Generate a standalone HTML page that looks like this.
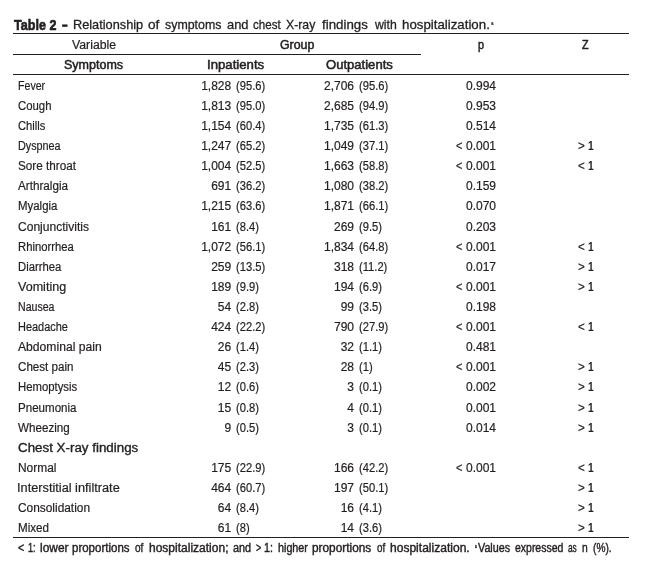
<!DOCTYPE html>
<html><head><meta charset="utf-8"><style>
html,body{margin:0;padding:0;background:#fff;}
body{width:645px;height:569px;position:relative;overflow:hidden;font-family:"Liberation Sans",Arial,sans-serif;color:#231f20;}
.t{position:absolute;white-space:pre;transform-origin:0 0;-webkit-text-stroke:0.2px #231f20;}
.b{-webkit-text-stroke:0.5px #231f20;}
.sb{-webkit-text-stroke:0.35px #231f20;}
.tb{font-weight:bold;-webkit-text-stroke:0.6px #231f20;}
.tt{-webkit-text-stroke:0.3px #231f20;}
.fn{-webkit-text-stroke:0.4px #231f20;}
.fn sup{font-size:6px;vertical-align:4px;line-height:0;}
.l{position:absolute;background:#231f20;}
</style></head><body>
<div class="l" style="left:13px;width:616px;top:33px;height:1px"></div>
<div class="l" style="left:13px;width:408px;top:54px;height:1px"></div>
<div class="l" style="left:13px;width:616px;top:74px;height:1px"></div>
<div class="l" style="left:13px;width:616px;top:537px;height:1px"></div>
<div id="e0" class="t tb" style="left:14.30px;top:18.00px;font-size:14px;line-height:14px;transform:scaleX(0.8979);">Table 2</div>
<div id="e1" class="t tb" style="left:61.90px;top:17.00px;font-size:15px;line-height:15px;transform:scaleX(0.6667);">–</div>
<div id="e2" class="t tt" style="left:73.30px;top:18.00px;font-size:13px;line-height:13px;transform:scaleX(0.9803);">Relationship</div>
<div id="e3" class="t tt" style="left:147.80px;top:18.00px;font-size:13px;line-height:13px;transform:scaleX(1.0455);">of</div>
<div id="e4" class="t tt" style="left:165.20px;top:18.00px;font-size:13px;line-height:13px;transform:scaleX(0.9525);">symptoms</div>
<div id="e5" class="t tt" style="left:226.60px;top:18.00px;font-size:13px;line-height:13px;transform:scaleX(0.9905);">and</div>
<div id="e6" class="t tt" style="left:252.80px;top:18.00px;font-size:13px;line-height:13px;transform:scaleX(0.8906);">chest</div>
<div id="e7" class="t tt" style="left:286.30px;top:18.00px;font-size:13px;line-height:13px;transform:scaleX(0.9419);">X-ray</div>
<div id="e8" class="t tt" style="left:321.60px;top:18.00px;font-size:13px;line-height:13px;transform:scaleX(1.0222);">findings</div>
<div id="e9" class="t tt" style="left:375.20px;top:18.00px;font-size:13px;line-height:13px;transform:scaleX(0.9435);">with</div>
<div id="e10" class="t tt" style="left:402.30px;top:18.00px;font-size:13px;line-height:13px;transform:scaleX(1.0212);">hospitalization.</div>
<div id="e11" class="t sup" style="left:491.30px;top:21.00px;font-size:5.5px;line-height:5.5px;transform:scaleX(0.8333);">a</div>
<div id="e12" class="t " style="left:72.00px;top:39.00px;font-size:12.0px;line-height:12.0px;transform:scaleX(1.0233);">Variable</div>
<div id="e13" class="t b" style="left:279.60px;top:39.00px;font-size:12.0px;line-height:12.0px;transform:scaleX(1.0294);">Group</div>
<div id="e14" class="t b" style="left:477.90px;top:39.00px;font-size:12.0px;line-height:12.0px;transform:scaleX(0.9000);">p</div>
<div id="e15" class="t b" style="left:581.90px;top:39.00px;font-size:12.0px;line-height:12.0px;transform:scaleX(0.9000);">Z</div>
<div id="e16" class="t b" style="left:64.10px;top:59.00px;font-size:12.0px;line-height:12.0px;transform:scaleX(1.0421);">Symptoms</div>
<div id="e17" class="t b" style="left:207.00px;top:59.00px;font-size:12.0px;line-height:12.0px;transform:scaleX(1.0981);">Inpatients</div>
<div id="e18" class="t b" style="left:325.50px;top:59.00px;font-size:12.0px;line-height:12.0px;transform:scaleX(1.0885);">Outpatients</div>
<div id="e19" class="t " style="left:17.80px;top:80.00px;font-size:12.0px;line-height:12.0px;transform:scaleX(0.8839);">Fever</div>
<div id="e20" class="t " style="right:413.80px;top:80.00px;font-size:12.0px;line-height:12.0px;">1,828</div>
<div id="e21" class="t " style="left:236.20px;top:80.00px;font-size:12.0px;line-height:12.0px;transform:scaleX(0.9300);">(95.6)</div>
<div id="e22" class="t " style="right:291.00px;top:80.00px;font-size:12.0px;line-height:12.0px;">2,706</div>
<div id="e23" class="t " style="left:359.00px;top:80.00px;font-size:12.0px;line-height:12.0px;transform:scaleX(0.9300);">(95.6)</div>
<div id="e24" class="t " style="left:466.00px;top:80.00px;font-size:12.0px;line-height:12.0px;">0.994</div>
<div id="e25" class="t " style="left:17.80px;top:100.00px;font-size:12.0px;line-height:12.0px;transform:scaleX(0.9457);">Cough</div>
<div id="e26" class="t " style="right:413.80px;top:100.00px;font-size:12.0px;line-height:12.0px;">1,813</div>
<div id="e27" class="t " style="left:236.20px;top:100.00px;font-size:12.0px;line-height:12.0px;transform:scaleX(0.9300);">(95.0)</div>
<div id="e28" class="t " style="right:291.00px;top:100.00px;font-size:12.0px;line-height:12.0px;">2,685</div>
<div id="e29" class="t " style="left:359.00px;top:100.00px;font-size:12.0px;line-height:12.0px;transform:scaleX(0.9300);">(94.9)</div>
<div id="e30" class="t " style="left:466.00px;top:100.00px;font-size:12.0px;line-height:12.0px;">0.953</div>
<div id="e31" class="t " style="left:17.80px;top:120.00px;font-size:12.0px;line-height:12.0px;transform:scaleX(0.9345);">Chills</div>
<div id="e32" class="t " style="right:413.80px;top:120.00px;font-size:12.0px;line-height:12.0px;">1,154</div>
<div id="e33" class="t " style="left:236.20px;top:120.00px;font-size:12.0px;line-height:12.0px;transform:scaleX(0.9300);">(60.4)</div>
<div id="e34" class="t " style="right:291.00px;top:120.00px;font-size:12.0px;line-height:12.0px;">1,735</div>
<div id="e35" class="t " style="left:359.00px;top:120.00px;font-size:12.0px;line-height:12.0px;transform:scaleX(0.9300);">(61.3)</div>
<div id="e36" class="t " style="left:466.00px;top:120.00px;font-size:12.0px;line-height:12.0px;">0.514</div>
<div id="e37" class="t " style="left:17.80px;top:140.00px;font-size:12.0px;line-height:12.0px;transform:scaleX(0.9000);">Dyspnea</div>
<div id="e38" class="t " style="right:413.80px;top:140.00px;font-size:12.0px;line-height:12.0px;">1,247</div>
<div id="e39" class="t " style="left:236.20px;top:140.00px;font-size:12.0px;line-height:12.0px;transform:scaleX(0.9300);">(65.2)</div>
<div id="e40" class="t " style="right:291.00px;top:140.00px;font-size:12.0px;line-height:12.0px;">1,049</div>
<div id="e41" class="t " style="left:359.00px;top:140.00px;font-size:12.0px;line-height:12.0px;transform:scaleX(0.9300);">(37.1)</div>
<div id="e42" class="t " style="left:455.60px;top:140.00px;font-size:12.0px;line-height:12.0px;transform:scaleX(0.9143);">&lt;</div>
<div id="e43" class="t " style="left:466.00px;top:140.00px;font-size:12.0px;line-height:12.0px;">0.001</div>
<div id="e44" class="t " style="left:578.20px;top:140.00px;font-size:12.0px;line-height:12.0px;transform:scaleX(0.9714);">&gt;</div>
<div id="e45" class="t " style="left:587.60px;top:140.00px;font-size:12.0px;line-height:12.0px;transform:scaleX(0.8500);font-weight:bold;-webkit-text-stroke:0;">1</div>
<div id="e46" class="t " style="left:17.80px;top:160.00px;font-size:12.0px;line-height:12.0px;transform:scaleX(0.9767);">Sore throat</div>
<div id="e47" class="t " style="right:413.80px;top:160.00px;font-size:12.0px;line-height:12.0px;">1,004</div>
<div id="e48" class="t " style="left:236.20px;top:160.00px;font-size:12.0px;line-height:12.0px;transform:scaleX(0.9300);">(52.5)</div>
<div id="e49" class="t " style="right:291.00px;top:160.00px;font-size:12.0px;line-height:12.0px;">1,663</div>
<div id="e50" class="t " style="left:359.00px;top:160.00px;font-size:12.0px;line-height:12.0px;transform:scaleX(0.9300);">(58.8)</div>
<div id="e51" class="t " style="left:455.60px;top:160.00px;font-size:12.0px;line-height:12.0px;transform:scaleX(0.9143);">&lt;</div>
<div id="e52" class="t " style="left:466.00px;top:160.00px;font-size:12.0px;line-height:12.0px;">0.001</div>
<div id="e53" class="t " style="left:578.20px;top:160.00px;font-size:12.0px;line-height:12.0px;transform:scaleX(0.9714);">&lt;</div>
<div id="e54" class="t " style="left:587.60px;top:160.00px;font-size:12.0px;line-height:12.0px;transform:scaleX(0.8500);font-weight:bold;-webkit-text-stroke:0;">1</div>
<div id="e55" class="t " style="left:17.80px;top:180.00px;font-size:12.0px;line-height:12.0px;transform:scaleX(0.9750);">Arthralgia</div>
<div id="e56" class="t " style="right:413.80px;top:180.00px;font-size:12.0px;line-height:12.0px;">691</div>
<div id="e57" class="t " style="left:236.20px;top:180.00px;font-size:12.0px;line-height:12.0px;transform:scaleX(0.9300);">(36.2)</div>
<div id="e58" class="t " style="right:291.00px;top:180.00px;font-size:12.0px;line-height:12.0px;">1,080</div>
<div id="e59" class="t " style="left:359.00px;top:180.00px;font-size:12.0px;line-height:12.0px;transform:scaleX(0.9300);">(38.2)</div>
<div id="e60" class="t " style="left:466.00px;top:180.00px;font-size:12.0px;line-height:12.0px;">0.159</div>
<div id="e61" class="t " style="left:17.80px;top:200.00px;font-size:12.0px;line-height:12.0px;transform:scaleX(0.9524);">Myalgia</div>
<div id="e62" class="t " style="right:413.80px;top:200.00px;font-size:12.0px;line-height:12.0px;">1,215</div>
<div id="e63" class="t " style="left:236.20px;top:200.00px;font-size:12.0px;line-height:12.0px;transform:scaleX(0.9300);">(63.6)</div>
<div id="e64" class="t " style="right:291.00px;top:200.00px;font-size:12.0px;line-height:12.0px;">1,871</div>
<div id="e65" class="t " style="left:359.00px;top:200.00px;font-size:12.0px;line-height:12.0px;transform:scaleX(0.9300);">(66.1)</div>
<div id="e66" class="t " style="left:466.00px;top:200.00px;font-size:12.0px;line-height:12.0px;">0.070</div>
<div id="e67" class="t " style="left:17.80px;top:221.00px;font-size:12.0px;line-height:12.0px;transform:scaleX(1.0042);">Conjunctivitis</div>
<div id="e68" class="t " style="right:413.80px;top:221.00px;font-size:12.0px;line-height:12.0px;">161</div>
<div id="e69" class="t " style="left:236.20px;top:221.00px;font-size:12.0px;line-height:12.0px;transform:scaleX(0.9300);">(8.4)</div>
<div id="e70" class="t " style="right:291.00px;top:221.00px;font-size:12.0px;line-height:12.0px;">269</div>
<div id="e71" class="t " style="left:359.00px;top:221.00px;font-size:12.0px;line-height:12.0px;transform:scaleX(0.9300);">(9.5)</div>
<div id="e72" class="t " style="left:466.00px;top:221.00px;font-size:12.0px;line-height:12.0px;">0.203</div>
<div id="e73" class="t " style="left:17.80px;top:241.00px;font-size:12.0px;line-height:12.0px;transform:scaleX(0.9383);">Rhinorrhea</div>
<div id="e74" class="t " style="right:413.80px;top:241.00px;font-size:12.0px;line-height:12.0px;">1,072</div>
<div id="e75" class="t " style="left:236.20px;top:241.00px;font-size:12.0px;line-height:12.0px;transform:scaleX(0.9300);">(56.1)</div>
<div id="e76" class="t " style="right:291.00px;top:241.00px;font-size:12.0px;line-height:12.0px;">1,834</div>
<div id="e77" class="t " style="left:359.00px;top:241.00px;font-size:12.0px;line-height:12.0px;transform:scaleX(0.9300);">(64.8)</div>
<div id="e78" class="t " style="left:455.60px;top:241.00px;font-size:12.0px;line-height:12.0px;transform:scaleX(0.9143);">&lt;</div>
<div id="e79" class="t " style="left:466.00px;top:241.00px;font-size:12.0px;line-height:12.0px;">0.001</div>
<div id="e80" class="t " style="left:578.20px;top:241.00px;font-size:12.0px;line-height:12.0px;transform:scaleX(0.9714);">&lt;</div>
<div id="e81" class="t " style="left:587.60px;top:241.00px;font-size:12.0px;line-height:12.0px;transform:scaleX(0.8500);font-weight:bold;-webkit-text-stroke:0;">1</div>
<div id="e82" class="t " style="left:17.80px;top:261.00px;font-size:12.0px;line-height:12.0px;transform:scaleX(0.9391);">Diarrhea</div>
<div id="e83" class="t " style="right:413.80px;top:261.00px;font-size:12.0px;line-height:12.0px;">259</div>
<div id="e84" class="t " style="left:236.20px;top:261.00px;font-size:12.0px;line-height:12.0px;transform:scaleX(0.9300);">(13.5)</div>
<div id="e85" class="t " style="right:291.00px;top:261.00px;font-size:12.0px;line-height:12.0px;">318</div>
<div id="e86" class="t " style="left:359.00px;top:261.00px;font-size:12.0px;line-height:12.0px;transform:scaleX(0.9300);">(11.2)</div>
<div id="e87" class="t " style="left:466.00px;top:261.00px;font-size:12.0px;line-height:12.0px;">0.017</div>
<div id="e88" class="t " style="left:578.20px;top:261.00px;font-size:12.0px;line-height:12.0px;transform:scaleX(0.9714);">&gt;</div>
<div id="e89" class="t " style="left:587.60px;top:261.00px;font-size:12.0px;line-height:12.0px;transform:scaleX(0.8500);font-weight:bold;-webkit-text-stroke:0;">1</div>
<div id="e90" class="t " style="left:17.80px;top:281.00px;font-size:12.0px;line-height:12.0px;transform:scaleX(1.0457);">Vomiting</div>
<div id="e91" class="t " style="right:413.80px;top:281.00px;font-size:12.0px;line-height:12.0px;">189</div>
<div id="e92" class="t " style="left:236.20px;top:281.00px;font-size:12.0px;line-height:12.0px;transform:scaleX(0.9300);">(9.9)</div>
<div id="e93" class="t " style="right:291.00px;top:281.00px;font-size:12.0px;line-height:12.0px;">194</div>
<div id="e94" class="t " style="left:359.00px;top:281.00px;font-size:12.0px;line-height:12.0px;transform:scaleX(0.9300);">(6.9)</div>
<div id="e95" class="t " style="left:455.60px;top:281.00px;font-size:12.0px;line-height:12.0px;transform:scaleX(0.9143);">&lt;</div>
<div id="e96" class="t " style="left:466.00px;top:281.00px;font-size:12.0px;line-height:12.0px;">0.001</div>
<div id="e97" class="t " style="left:578.20px;top:281.00px;font-size:12.0px;line-height:12.0px;transform:scaleX(0.9714);">&gt;</div>
<div id="e98" class="t " style="left:587.60px;top:281.00px;font-size:12.0px;line-height:12.0px;transform:scaleX(0.8500);font-weight:bold;-webkit-text-stroke:0;">1</div>
<div id="e99" class="t " style="left:17.80px;top:301.00px;font-size:12.0px;line-height:12.0px;transform:scaleX(0.8810);">Nausea</div>
<div id="e100" class="t " style="right:413.80px;top:301.00px;font-size:12.0px;line-height:12.0px;">54</div>
<div id="e101" class="t " style="left:236.20px;top:301.00px;font-size:12.0px;line-height:12.0px;transform:scaleX(0.9300);">(2.8)</div>
<div id="e102" class="t " style="right:291.00px;top:301.00px;font-size:12.0px;line-height:12.0px;">99</div>
<div id="e103" class="t " style="left:359.00px;top:301.00px;font-size:12.0px;line-height:12.0px;transform:scaleX(0.9300);">(3.5)</div>
<div id="e104" class="t " style="left:466.00px;top:301.00px;font-size:12.0px;line-height:12.0px;">0.198</div>
<div id="e105" class="t " style="left:17.80px;top:321.00px;font-size:12.0px;line-height:12.0px;transform:scaleX(0.9127);">Headache</div>
<div id="e106" class="t " style="right:413.80px;top:321.00px;font-size:12.0px;line-height:12.0px;">424</div>
<div id="e107" class="t " style="left:236.20px;top:321.00px;font-size:12.0px;line-height:12.0px;transform:scaleX(0.9300);">(22.2)</div>
<div id="e108" class="t " style="right:291.00px;top:321.00px;font-size:12.0px;line-height:12.0px;">790</div>
<div id="e109" class="t " style="left:359.00px;top:321.00px;font-size:12.0px;line-height:12.0px;transform:scaleX(0.9300);">(27.9)</div>
<div id="e110" class="t " style="left:455.60px;top:321.00px;font-size:12.0px;line-height:12.0px;transform:scaleX(0.9143);">&lt;</div>
<div id="e111" class="t " style="left:466.00px;top:321.00px;font-size:12.0px;line-height:12.0px;">0.001</div>
<div id="e112" class="t " style="left:578.20px;top:321.00px;font-size:12.0px;line-height:12.0px;transform:scaleX(0.9714);">&lt;</div>
<div id="e113" class="t " style="left:587.60px;top:321.00px;font-size:12.0px;line-height:12.0px;transform:scaleX(0.8500);font-weight:bold;-webkit-text-stroke:0;">1</div>
<div id="e114" class="t " style="left:17.80px;top:341.00px;font-size:12.0px;line-height:12.0px;transform:scaleX(1.0122);">Abdominal pain</div>
<div id="e115" class="t " style="right:413.80px;top:341.00px;font-size:12.0px;line-height:12.0px;">26</div>
<div id="e116" class="t " style="left:236.20px;top:341.00px;font-size:12.0px;line-height:12.0px;transform:scaleX(0.9300);">(1.4)</div>
<div id="e117" class="t " style="right:291.00px;top:341.00px;font-size:12.0px;line-height:12.0px;">32</div>
<div id="e118" class="t " style="left:359.00px;top:341.00px;font-size:12.0px;line-height:12.0px;transform:scaleX(0.9300);">(1.1)</div>
<div id="e119" class="t " style="left:466.00px;top:341.00px;font-size:12.0px;line-height:12.0px;">0.481</div>
<div id="e120" class="t " style="left:17.80px;top:361.00px;font-size:12.0px;line-height:12.0px;transform:scaleX(0.9667);">Chest pain</div>
<div id="e121" class="t " style="right:413.80px;top:361.00px;font-size:12.0px;line-height:12.0px;">45</div>
<div id="e122" class="t " style="left:236.20px;top:361.00px;font-size:12.0px;line-height:12.0px;transform:scaleX(0.9300);">(2.3)</div>
<div id="e123" class="t " style="right:291.00px;top:361.00px;font-size:12.0px;line-height:12.0px;">28</div>
<div id="e124" class="t " style="left:359.00px;top:361.00px;font-size:12.0px;line-height:12.0px;transform:scaleX(0.9300);">(1)</div>
<div id="e125" class="t " style="left:455.60px;top:361.00px;font-size:12.0px;line-height:12.0px;transform:scaleX(0.9143);">&lt;</div>
<div id="e126" class="t " style="left:466.00px;top:361.00px;font-size:12.0px;line-height:12.0px;">0.001</div>
<div id="e127" class="t " style="left:578.20px;top:361.00px;font-size:12.0px;line-height:12.0px;transform:scaleX(0.9714);">&gt;</div>
<div id="e128" class="t " style="left:587.60px;top:361.00px;font-size:12.0px;line-height:12.0px;transform:scaleX(0.8500);font-weight:bold;-webkit-text-stroke:0;">1</div>
<div id="e129" class="t " style="left:17.80px;top:381.00px;font-size:12.0px;line-height:12.0px;transform:scaleX(0.9444);">Hemoptysis</div>
<div id="e130" class="t " style="right:413.80px;top:381.00px;font-size:12.0px;line-height:12.0px;">12</div>
<div id="e131" class="t " style="left:236.20px;top:381.00px;font-size:12.0px;line-height:12.0px;transform:scaleX(0.9300);">(0.6)</div>
<div id="e132" class="t " style="right:291.00px;top:381.00px;font-size:12.0px;line-height:12.0px;">3</div>
<div id="e133" class="t " style="left:359.00px;top:381.00px;font-size:12.0px;line-height:12.0px;transform:scaleX(0.9300);">(0.1)</div>
<div id="e134" class="t " style="left:466.00px;top:381.00px;font-size:12.0px;line-height:12.0px;">0.002</div>
<div id="e135" class="t " style="left:578.20px;top:381.00px;font-size:12.0px;line-height:12.0px;transform:scaleX(0.9714);">&gt;</div>
<div id="e136" class="t " style="left:587.60px;top:381.00px;font-size:12.0px;line-height:12.0px;transform:scaleX(0.8500);font-weight:bold;-webkit-text-stroke:0;">1</div>
<div id="e137" class="t " style="left:17.80px;top:402.00px;font-size:12.0px;line-height:12.0px;transform:scaleX(0.9639);">Pneumonia</div>
<div id="e138" class="t " style="right:413.80px;top:402.00px;font-size:12.0px;line-height:12.0px;">15</div>
<div id="e139" class="t " style="left:236.20px;top:402.00px;font-size:12.0px;line-height:12.0px;transform:scaleX(0.9300);">(0.8)</div>
<div id="e140" class="t " style="right:291.00px;top:402.00px;font-size:12.0px;line-height:12.0px;">4</div>
<div id="e141" class="t " style="left:359.00px;top:402.00px;font-size:12.0px;line-height:12.0px;transform:scaleX(0.9300);">(0.1)</div>
<div id="e142" class="t " style="left:466.00px;top:402.00px;font-size:12.0px;line-height:12.0px;">0.001</div>
<div id="e143" class="t " style="left:578.20px;top:402.00px;font-size:12.0px;line-height:12.0px;transform:scaleX(0.9714);">&gt;</div>
<div id="e144" class="t " style="left:587.60px;top:402.00px;font-size:12.0px;line-height:12.0px;transform:scaleX(0.8500);font-weight:bold;-webkit-text-stroke:0;">1</div>
<div id="e145" class="t " style="left:17.80px;top:422.00px;font-size:12.0px;line-height:12.0px;transform:scaleX(0.9698);">Wheezing</div>
<div id="e146" class="t " style="right:413.80px;top:422.00px;font-size:12.0px;line-height:12.0px;">9</div>
<div id="e147" class="t " style="left:236.20px;top:422.00px;font-size:12.0px;line-height:12.0px;transform:scaleX(0.9300);">(0.5)</div>
<div id="e148" class="t " style="right:291.00px;top:422.00px;font-size:12.0px;line-height:12.0px;">3</div>
<div id="e149" class="t " style="left:359.00px;top:422.00px;font-size:12.0px;line-height:12.0px;transform:scaleX(0.9300);">(0.1)</div>
<div id="e150" class="t " style="left:466.00px;top:422.00px;font-size:12.0px;line-height:12.0px;">0.014</div>
<div id="e151" class="t " style="left:578.20px;top:422.00px;font-size:12.0px;line-height:12.0px;transform:scaleX(0.9714);">&gt;</div>
<div id="e152" class="t " style="left:587.60px;top:422.00px;font-size:12.0px;line-height:12.0px;transform:scaleX(0.8500);font-weight:bold;-webkit-text-stroke:0;">1</div>
<div id="e153" class="t sb" style="left:17.80px;top:442.00px;font-size:12.0px;line-height:12.0px;transform:scaleX(1.1130);">Chest X-ray findings</div>
<div id="e154" class="t " style="left:17.80px;top:462.00px;font-size:12.0px;line-height:12.0px;transform:scaleX(0.9947);">Normal</div>
<div id="e155" class="t " style="right:413.80px;top:462.00px;font-size:12.0px;line-height:12.0px;">175</div>
<div id="e156" class="t " style="left:236.20px;top:462.00px;font-size:12.0px;line-height:12.0px;transform:scaleX(0.9300);">(22.9)</div>
<div id="e157" class="t " style="right:291.00px;top:462.00px;font-size:12.0px;line-height:12.0px;">166</div>
<div id="e158" class="t " style="left:359.00px;top:462.00px;font-size:12.0px;line-height:12.0px;transform:scaleX(0.9300);">(42.2)</div>
<div id="e159" class="t " style="left:455.60px;top:462.00px;font-size:12.0px;line-height:12.0px;transform:scaleX(0.9143);">&lt;</div>
<div id="e160" class="t " style="left:466.00px;top:462.00px;font-size:12.0px;line-height:12.0px;">0.001</div>
<div id="e161" class="t " style="left:578.20px;top:462.00px;font-size:12.0px;line-height:12.0px;transform:scaleX(0.9714);">&lt;</div>
<div id="e162" class="t " style="left:587.60px;top:462.00px;font-size:12.0px;line-height:12.0px;transform:scaleX(0.8500);font-weight:bold;-webkit-text-stroke:0;">1</div>
<div id="e163" class="t " style="left:16.74px;top:482.00px;font-size:12.0px;line-height:12.0px;transform:scaleX(1.0625);">Interstitial infiltrate</div>
<div id="e164" class="t " style="right:413.80px;top:482.00px;font-size:12.0px;line-height:12.0px;">464</div>
<div id="e165" class="t " style="left:236.20px;top:482.00px;font-size:12.0px;line-height:12.0px;transform:scaleX(0.9300);">(60.7)</div>
<div id="e166" class="t " style="right:291.00px;top:482.00px;font-size:12.0px;line-height:12.0px;">197</div>
<div id="e167" class="t " style="left:359.00px;top:482.00px;font-size:12.0px;line-height:12.0px;transform:scaleX(0.9300);">(50.1)</div>
<div id="e168" class="t " style="left:578.20px;top:482.00px;font-size:12.0px;line-height:12.0px;transform:scaleX(0.9714);">&gt;</div>
<div id="e169" class="t " style="left:587.60px;top:482.00px;font-size:12.0px;line-height:12.0px;transform:scaleX(0.8500);font-weight:bold;-webkit-text-stroke:0;">1</div>
<div id="e170" class="t " style="left:17.80px;top:502.00px;font-size:12.0px;line-height:12.0px;transform:scaleX(0.9903);">Consolidation</div>
<div id="e171" class="t " style="right:413.80px;top:502.00px;font-size:12.0px;line-height:12.0px;">64</div>
<div id="e172" class="t " style="left:236.20px;top:502.00px;font-size:12.0px;line-height:12.0px;transform:scaleX(0.9300);">(8.4)</div>
<div id="e173" class="t " style="right:291.00px;top:502.00px;font-size:12.0px;line-height:12.0px;">16</div>
<div id="e174" class="t " style="left:359.00px;top:502.00px;font-size:12.0px;line-height:12.0px;transform:scaleX(0.9300);">(4.1)</div>
<div id="e175" class="t " style="left:578.20px;top:502.00px;font-size:12.0px;line-height:12.0px;transform:scaleX(0.9714);">&gt;</div>
<div id="e176" class="t " style="left:587.60px;top:502.00px;font-size:12.0px;line-height:12.0px;transform:scaleX(0.8500);font-weight:bold;-webkit-text-stroke:0;">1</div>
<div id="e177" class="t " style="left:17.80px;top:522.00px;font-size:12.0px;line-height:12.0px;transform:scaleX(0.9687);">Mixed</div>
<div id="e178" class="t " style="right:413.80px;top:522.00px;font-size:12.0px;line-height:12.0px;">61</div>
<div id="e179" class="t " style="left:236.20px;top:522.00px;font-size:12.0px;line-height:12.0px;transform:scaleX(0.9300);">(8)</div>
<div id="e180" class="t " style="right:291.00px;top:522.00px;font-size:12.0px;line-height:12.0px;">14</div>
<div id="e181" class="t " style="left:359.00px;top:522.00px;font-size:12.0px;line-height:12.0px;transform:scaleX(0.9300);">(3.6)</div>
<div id="e182" class="t " style="left:578.20px;top:522.00px;font-size:12.0px;line-height:12.0px;transform:scaleX(0.9714);">&gt;</div>
<div id="e183" class="t " style="left:587.60px;top:522.00px;font-size:12.0px;line-height:12.0px;transform:scaleX(0.8500);font-weight:bold;-webkit-text-stroke:0;">1</div>
<div id="e184" class="t fn" style="left:18.10px;top:542.00px;font-size:12px;line-height:12px;transform:scaleX(0.8857);">&lt;</div>
<div id="e185" class="t fn" style="left:28.10px;top:542.00px;font-size:12px;line-height:12px;transform:scaleX(0.7600);">1:</div>
<div id="e186" class="t fn" style="left:39.50px;top:542.00px;font-size:12px;line-height:12px;transform:scaleX(0.9931);">lower</div>
<div id="e187" class="t fn" style="left:72.20px;top:542.00px;font-size:12px;line-height:12px;transform:scaleX(0.9583);">proportions</div>
<div id="e188" class="t fn" style="left:135.00px;top:542.00px;font-size:12px;line-height:12px;transform:scaleX(0.8364);">of</div>
<div id="e189" class="t fn" style="left:149.20px;top:542.00px;font-size:12px;line-height:12px;transform:scaleX(1.0013);">hospitalization;</div>
<div id="e190" class="t fn" style="left:233.20px;top:542.00px;font-size:12px;line-height:12px;transform:scaleX(0.9050);">and</div>
<div id="e191" class="t fn" style="left:255.90px;top:542.00px;font-size:12px;line-height:12px;transform:scaleX(0.7429);">&gt;</div>
<div id="e192" class="t fn" style="left:264.30px;top:542.00px;font-size:12px;line-height:12px;transform:scaleX(0.8900);">1:</div>
<div id="e193" class="t fn" style="left:277.90px;top:542.00px;font-size:12px;line-height:12px;transform:scaleX(0.8971);">higher</div>
<div id="e194" class="t fn" style="left:312.40px;top:542.00px;font-size:12px;line-height:12px;transform:scaleX(0.9867);">proportions</div>
<div id="e195" class="t fn" style="left:376.60px;top:542.00px;font-size:12px;line-height:12px;transform:scaleX(0.8182);">of</div>
<div id="e196" class="t fn" style="left:390.20px;top:542.00px;font-size:12px;line-height:12px;transform:scaleX(1.0038);">hospitalization.</div>
<div id="e197" class="t fn" style="left:477.60px;top:542.00px;font-size:12px;line-height:12px;transform:scaleX(0.8972);">Values</div>
<div id="e198" class="t fn" style="left:515.20px;top:542.00px;font-size:12px;line-height:12px;transform:scaleX(0.8727);">expressed</div>
<div id="e199" class="t fn" style="left:568.30px;top:542.00px;font-size:12px;line-height:12px;transform:scaleX(0.6923);">as</div>
<div id="e200" class="t fn" style="left:581.90px;top:542.00px;font-size:12px;line-height:12px;transform:scaleX(0.8571);">n</div>
<div id="e201" class="t fn" style="left:593.00px;top:542.00px;font-size:12px;line-height:12px;transform:scaleX(0.8455);">(%).</div>
<div id="e202" class="t fn" style="left:475.20px;top:544.00px;font-size:5.5px;line-height:5.5px;transform:scaleX(0.5500);">a</div>
</body></html>
